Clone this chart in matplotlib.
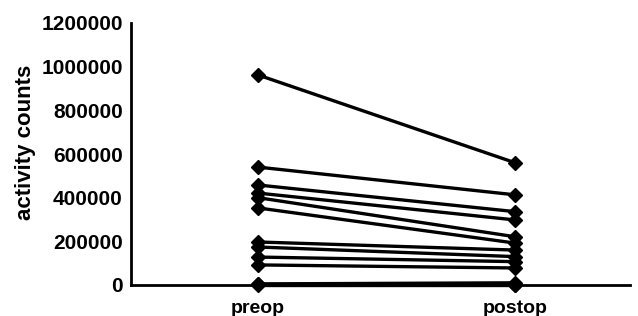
import matplotlib
matplotlib.use("Agg")
import matplotlib.pyplot as plt

categories = ["preop", "postop"]
preop = [962000, 540000, 458000, 421000, 400000, 353000, 197000, 174000, 128000, 92000, 5000, 3000, 0]
postop = [560000, 413000, 336000, 298000, 221000, 192000, 160000, 130000, 107000, 78000, 10000, 2000, 0]
yticks = [0, 200000, 400000, 600000, 800000, 1000000, 1200000]

plt.rcParams['font.family'] = ['Liberation Sans', 'DejaVu Sans']

fig = plt.figure(figsize=(6.38, 3.16), dpi=100)
ax = fig.add_axes([131/638, 1-285/316, 499/638, 262/316])

for a, b in zip(preop, postop):
    ax.plot([0, 1], [a, b], color='black', lw=2.4, marker='D', markersize=7.5,
            markerfacecolor='black', markeredgecolor='black', solid_capstyle='butt')

ax.set_xlim(-0.494, 1.447)
ax.set_ylim(0, 1200000)
ax.set_xticks([0, 1])
ax.set_xticklabels(categories, fontsize=14, fontweight='bold')
ax.set_yticks(yticks)
ax.set_yticklabels([str(v) for v in yticks], fontsize=15, fontweight='bold')
ax.tick_params(axis='y', length=0, pad=6)
ax.tick_params(axis='x', length=0, pad=11)
ax.set_ylabel("activity counts", fontsize=16, fontweight='bold')
ax.yaxis.set_label_coords(-0.19, 0.546)
for s in ['top', 'right']:
    ax.spines[s].set_visible(False)
for s in ['left', 'bottom']:
    ax.spines[s].set_linewidth(2)
for l in ax.lines:
    l.set_clip_on(False)

fig.savefig("out.png", dpi=100)
